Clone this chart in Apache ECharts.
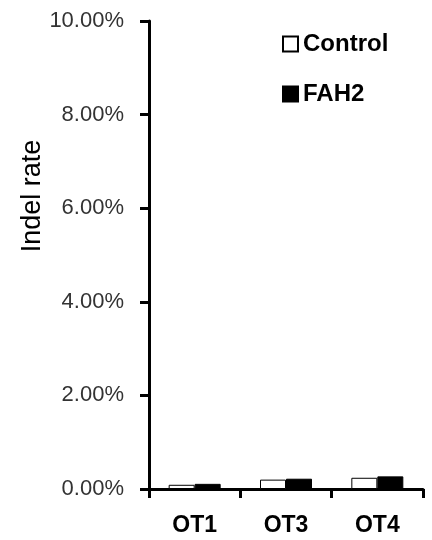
<!DOCTYPE html>
<html>
<head>
<meta charset="utf-8">
<script src="https://cdn.jsdelivr.net/npm/echarts@6/dist/echarts.min.js"></script>
<style>html,body{margin:0;padding:0;background:#fff}#c{width:432px;height:540px}</style>
</head>
<body>
<div id="c"></div>
<script>
var categories = ['OT1', 'OT3', 'OT4'];
var controlValues = [0.09, 0.20, 0.24];
var fah2Values = [0.11, 0.22, 0.27];
var yTicks = [0, 2, 4, 6, 8, 10];
var seriesNames = ['Control', 'FAH2'];
var yTitle = 'Indel rate';

var chart = echarts.init(document.getElementById('c'), null, {renderer: 'canvas'});
var font = '"Liberation Sans", Arial, sans-serif';
chart.setOption({
  animation: false,
  backgroundColor: '#fff',
  grid: {left: 149, right: 9, top: 21, bottom: 51, containLabel: false},
  legend: {
    orient: 'vertical',
    left: 277, top: 27,
    itemWidth: 15, itemHeight: 15, itemGap: 26,
    icon: 'rect',
    textStyle: {fontFamily: font, fontSize: 24, fontWeight: 'bold', color: '#000'},
    data: seriesNames
  },
  graphic: [{
    type: 'text', x: 33, y: 196, rotation: Math.PI / 2,
    style: {text: yTitle, font: '27px ' + font, fill: '#000', align: 'center', verticalAlign: 'middle'}
  }],
  xAxis: {
    type: 'category', data: categories,
    axisLine: {lineStyle: {color: '#000', width: 3}},
    axisTick: {show: true, length: 9, lineStyle: {color: '#000', width: 3}, alignWithLabel: false},
    axisLabel: {margin: 25, fontFamily: font, fontSize: 23, fontWeight: 'bold', color: '#000'}
  },
  yAxis: {
    type: 'value', min: yTicks[0], max: yTicks[yTicks.length - 1], interval: yTicks[1] - yTicks[0],
    splitLine: {show: false},
    axisLine: {show: true, lineStyle: {color: '#000', width: 3}},
    axisTick: {show: true, length: 9, lineStyle: {color: '#000', width: 3}},
    axisLabel: {margin: 25, fontFamily: font, fontSize: 22, color: '#333',
      formatter: function (v) { return v.toFixed(2) + '%'; }}
  },
  series: [
    {name: seriesNames[0], type: 'bar', data: controlValues, barWidth: 26, barGap: '0%',
      itemStyle: {color: '#fff', borderColor: '#000', borderWidth: 1}},
    {name: seriesNames[1], type: 'bar', data: fah2Values, barWidth: 26, barGap: '0%',
      itemStyle: {color: '#000', borderColor: '#000', borderWidth: 1}}
  ]
});
</script>
</body>
</html>
